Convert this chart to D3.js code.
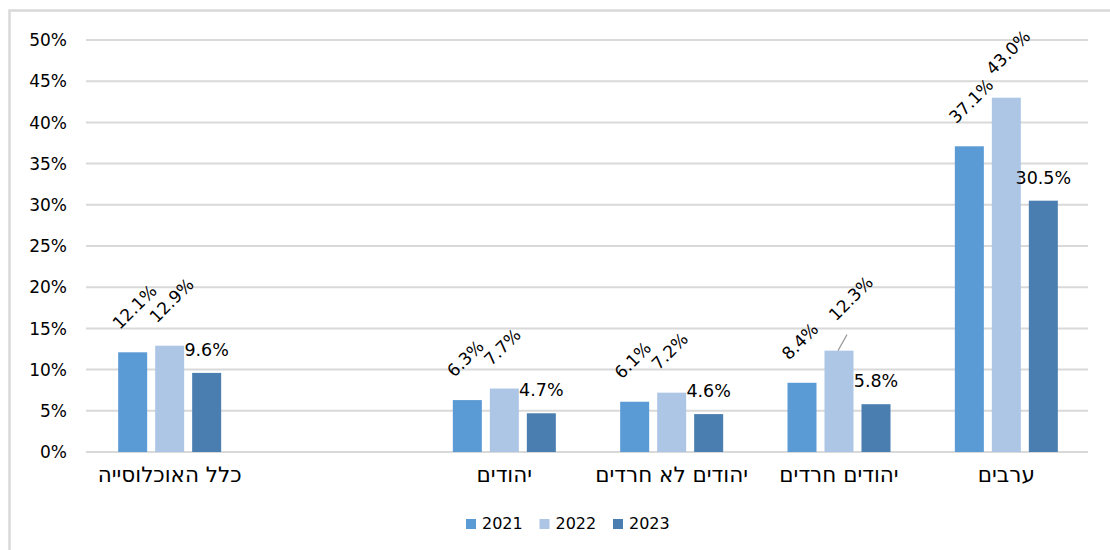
<!DOCTYPE html>
<html>
<head>
<meta charset="utf-8">
<script src="https://cdn.jsdelivr.net/npm/d3@7"></script>
<style>
  body { margin: 0; background: #fff; }
  text { font-family: "DejaVu Sans", "Liberation Sans", Arial, sans-serif; fill: #000; }
</style>
</head>
<body>
<script>
// Grouped bar chart, three years per population group

const width = 1110;
const height = 550;

// data
const categories = ["כלל האוכלוסייה", "", "יהודים", "יהודים לא חרדים", "יהודים חרדים", "ערבים"];
const years = ["2021", "2022", "2023"];
const values2021 = [12.1, null, 6.3, 6.1, 8.4, 37.1];
const values2022 = [12.9, null, 7.7, 7.2, 12.3, 43.0];
const values2023 = [9.6, null, 4.7, 4.6, 5.8, 30.5];
const yTicks = [0, 5, 10, 15, 20, 25, 30, 35, 40, 45, 50];
const colors = ["#5b9bd5", "#adc6e6", "#4a7eb0"];

const series = [values2021, values2022, values2023];

const svg = d3.select("body")
    .append("svg")
    .attr("width", width)
    .attr("height", height);

// outer frame
svg.append("rect")
    .attr("x", 9.5)
    .attr("y", 10.5)
    .attr("width", width + 20)
    .attr("height", height + 20)
    .attr("fill", "none")
    .attr("stroke", "#d9d9d9")
    .attr("stroke-width", 2.5);

const x0 = d3.scaleBand()
    .domain(categories.map((c, i) => i))
    .range([86, 1090]);

const x1 = d3.scaleBand()
    .domain(years)
    .range([-51.5, 51.5])
    .paddingInner(0.216);

const y = d3.scaleLinear()
    .domain([0, 50])
    .range([452, 40]);

// gridlines
svg.append("g")
    .selectAll("line")
    .data(yTicks)
    .join("line")
    .attr("x1", 86)
    .attr("x2", 1088)
    .attr("y1", d => y(d))
    .attr("y2", d => y(d))
    .attr("stroke", "#d9d9d9")
    .attr("stroke-width", 2);

// y axis labels
svg.append("g")
    .selectAll("text")
    .data(yTicks)
    .join("text")
    .attr("x", 67)
    .attr("y", d => y(d))
    .attr("dy", "0.36em")
    .attr("text-anchor", "end")
    .style("font-size", "17px")
    .text(d => d + "%");

// bars
const groups = svg.append("g")
    .selectAll("g")
    .data(categories.map((c, i) => i))
    .join("g")
    .attr("transform", i => `translate(${x0(i) + x0.bandwidth() / 2},0)`);

const cells = groups.selectAll("g")
    .data(i => years.map((yr, k) => ({ cat: i, year: yr, k: k, v: series[k][i] })).filter(d => d.v != null))
    .join("g");

cells.append("rect")
    .attr("x", d => x1(d.year))
    .attr("width", x1.bandwidth())
    .attr("y", d => y(d.v))
    .attr("height", d => y(0) - y(d.v))
    .attr("fill", d => colors[d.k]);

// value labels: first two years rotated, last year flat
cells.each(function (d) {
    const g = d3.select(this);
    const cx = x1(d.year) + x1.bandwidth() / 2;
    const top = y(d.v);
    const label = d.v.toFixed(1) + "%";
    if (d.k < 2) {
        let px = cx - 13, py = top - 22;
        // the 2022 label of the Haredi group was dragged up, with a leader line
        if (d.cat === 4 && d.k === 1) {
            px = cx - 3;
            py = top - 29;
            g.append("line")
                .attr("x1", cx - 1).attr("y1", top)
                .attr("x2", cx + 8).attr("y2", top - 16)
                .attr("stroke", "#999").attr("stroke-width", 1.2);
        }
        g.append("text")
            .attr("transform", `translate(${px},${py}) rotate(-45)`)
            .style("font-size", "17px")
            .text(label);
    } else {
        g.append("text")
            .attr("x", cx)
            .attr("y", top - 17)
            .attr("text-anchor", "middle")
            .style("font-size", "17.5px")
            .text(label);
    }
});

// category labels
svg.append("g")
    .selectAll("text")
    .data(categories.map((c, i) => i))
    .join("text")
    .attr("x", i => x0(i) + x0.bandwidth() / 2)
    .attr("y", 482)
    .attr("text-anchor", "middle")
    .style("font-size", "21.5px")
    .text(i => categories[i]);

// legend
const legend = svg.append("g")
    .selectAll("g")
    .data(years)
    .join("g")
    .attr("transform", (d, i) => `translate(${466 + i * 73.5},519)`);

legend.append("rect")
    .attr("width", 10)
    .attr("height", 10)
    .attr("fill", (d, i) => colors[i]);

legend.append("text")
    .attr("x", 16)
    .attr("y", 10)
    .style("font-size", "16px")
    .text(d => d);
</script>
</body>
</html>
